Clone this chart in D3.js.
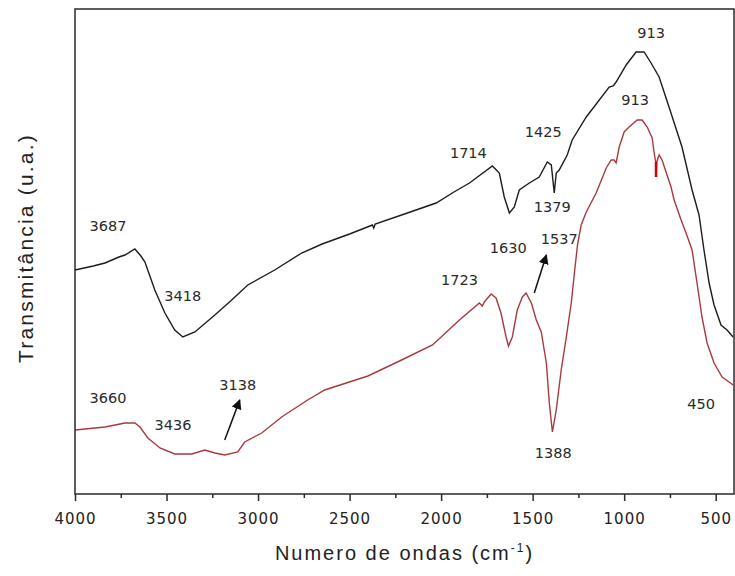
<!DOCTYPE html>
<html>
<head>
    <meta charset="UTF-8">
    <title>FTIR</title>
    <style>
        body {
            margin: 0;
            background-color: white;
        }
        svg {
            display: block;
        }
        .peak {
            font-family: "DejaVu Sans", sans-serif;
            font-size: 14.5px;
            fill: #2a2a2a;
        }
        .tick-label {
            font-family: "DejaVu Sans", sans-serif;
            font-size: 15px;
            letter-spacing: 1px;
            fill: #222;
        }
        .axis-title {
            font-family: "Liberation Sans", Arial, sans-serif;
            font-size: 20px;
            letter-spacing: 2px;
            fill: #222;
        }
        .y-title {
            font-size: 21px;
            letter-spacing: 2.2px;
        }
    </style>
</head>
<body>
    <svg id="chart" width="735" height="576"></svg>

    <script src="https://d3js.org/d3.v7.min.js"></script>
    <script>
        // upper spectrum (black), [wavenumber, transmittance u.a.]
        var blackSpectrum = [
            [4000, 44.8], [3900, 45.6], [3836, 46.2], [3760, 47.4], [3727, 47.8],
            [3673, 49.0], [3640, 47.6], [3618, 46.4], [3564, 40.8], [3509, 36.2],
            [3455, 32.8], [3411, 31.4], [3345, 32.4], [3236, 35.8], [3150, 38.6],
            [3056, 41.8], [2909, 44.8], [2762, 48.2], [2650, 50.0], [2500, 52.0],
            [2375, 53.8], [2368, 53.2], [2360, 54.0], [2200, 56.0], [2027, 58.2],
            [1930, 60.4], [1845, 62.2], [1720, 65.6], [1682, 64.2], [1655, 59.4],
            [1627, 56.2], [1600, 57.4], [1573, 60.8], [1518, 62.2], [1464, 63.4],
            [1420, 66.4], [1398, 65.8], [1382, 60.2], [1371, 64.2], [1355, 64.8],
            [1311, 67.8], [1284, 70.8], [1207, 75.4], [1082, 81.4], [1060, 81.6],
            [1044, 82.4], [989, 85.8], [935, 88.4], [891, 88.4], [853, 86.2],
            [809, 83.4], [755, 77.4], [684, 69.4], [629, 60.8], [591, 55.8],
            [564, 48.8], [536, 42.2], [509, 37.8], [471, 33.8], [438, 32.8],
            [405, 31.4]
        ];

        // lower spectrum (red)
        var redSpectrum = [
            [4000, 12.8], [3836, 13.4], [3727, 14.2], [3673, 14.2], [3645, 13.4],
            [3602, 11.2], [3536, 9.2], [3455, 8.0], [3362, 8.0], [3291, 8.8],
            [3236, 8.2], [3182, 7.8], [3111, 8.4], [3073, 10.4], [2980, 12.2],
            [2871, 15.4], [2729, 18.8], [2636, 20.8], [2400, 23.6], [2227, 26.6],
            [2047, 29.8], [1900, 34.8], [1791, 38.2], [1775, 37.6], [1764, 38.4],
            [1727, 40.0], [1700, 39.2], [1673, 36.2], [1645, 31.4], [1632, 29.6],
            [1611, 31.4], [1584, 36.8], [1556, 39.4], [1536, 40.2], [1507, 38.2],
            [1480, 34.8], [1453, 32.4], [1425, 26.2], [1409, 18.2], [1392, 12.4],
            [1371, 16.8], [1344, 24.8], [1316, 31.4], [1289, 38.2], [1273, 43.8],
            [1255, 49.8], [1235, 53.8], [1207, 56.4], [1153, 60.2], [1098, 65.2],
            [1071, 66.8], [1055, 66.8], [1044, 66.2], [1027, 69.4], [1000, 72.4],
            [973, 73.4], [929, 74.8], [902, 74.8], [874, 73.4], [847, 71.2],
            [836, 68.2], [828, 66.4], [826, 63.4], [822, 66.4], [809, 67.8],
            [793, 66.8], [744, 61.4], [727, 58.8], [689, 54.8], [662, 52.2],
            [629, 48.8], [602, 42.2], [575, 35.4], [547, 30.2], [509, 26.2],
            [465, 23.4], [427, 22.4], [405, 21.8]
        ];

        // bright red spike near 826
        var spike = [[826, 66.4], [826, 63.4]];

        var peakLabels = [
            { text: "3687", w: 3820, t: 53.6 },
            { text: "3418", w: 3411, t: 39.6 },
            { text: "1714", w: 1851, t: 68.2 },
            { text: "1425", w: 1442, t: 72.4 },
            { text: "913",  w: 853,  t: 92.2 },
            { text: "913",  w: 940,  t: 78.8 },
            { text: "1379", w: 1393, t: 57.4 },
            { text: "1630", w: 1633, t: 49.2 },
            { text: "1537", w: 1355, t: 51.0 },
            { text: "1723", w: 1900, t: 42.8 },
            { text: "3660", w: 3820, t: 19.2 },
            { text: "3436", w: 3465, t: 13.8 },
            { text: "3138", w: 3111, t: 21.8 },
            { text: "1388", w: 1387, t: 8.2 },
            { text: "450",  w: 580,  t: 18.0 }
        ];

        // arrows: tail -> head
        var arrows = [
            { w1: 3182, t1: 10.8, w2: 3100, t2: 18.8 },
            { w1: 1491, t1: 40.2, w2: 1425, t2: 47.8 }
        ];

        var majorTicks = [4000, 3500, 3000, 2500, 2000, 1500, 1000, 500];
        var minorTicks = [3750, 3250, 2750, 2250, 1750, 1250, 750];

        var plotLeft = 75, plotRight = 734, plotTop = 9, plotBottom = 494;

        var svg = d3.select("#chart");

        var x = d3.scaleLinear().domain([4000, 400]).range([plotLeft, plotRight]);
        var y = d3.scaleLinear().domain([0, 97]).range([plotBottom, plotTop]);

        var defs = svg.append("defs");
        defs.append("marker")
            .attr("id", "head")
            .attr("viewBox", "0 0 10 10")
            .attr("refX", 9)
            .attr("refY", 5)
            .attr("markerWidth", 10)
            .attr("markerHeight", 10)
            .attr("markerUnits", "userSpaceOnUse")
            .attr("orient", "auto")
            .append("path")
            .attr("d", "M0,0 L10,5 L0,10 Z")
            .attr("fill", "#111");

        // curves
        var line = d3.line()
            .x(function(d) { return x(d[0]); })
            .y(function(d) { return y(d[1]); });

        svg.append("path")
            .datum(blackSpectrum)
            .attr("d", line)
            .attr("fill", "none")
            .attr("stroke", "#1c1c1c")
            .attr("stroke-width", 1.4);

        svg.append("path")
            .datum(redSpectrum)
            .attr("d", line)
            .attr("fill", "none")
            .attr("stroke", "#a63a3e")
            .attr("stroke-width", 1.4);

        svg.append("path")
            .datum(spike)
            .attr("d", line)
            .attr("fill", "none")
            .attr("stroke", "#d40000")
            .attr("stroke-width", 2.5);

        // frame
        svg.append("rect")
            .attr("x", plotLeft)
            .attr("y", plotTop)
            .attr("width", plotRight - plotLeft)
            .attr("height", plotBottom - plotTop)
            .attr("fill", "none")
            .attr("stroke", "#2a2a2a")
            .attr("stroke-width", 1.5);

        // x axis
        var xAxis = d3.axisBottom(x)
            .tickValues(majorTicks)
            .tickSize(7)
            .tickPadding(12)
            .tickFormat(d3.format("d"));

        var axisG = svg.append("g")
            .attr("transform", "translate(0," + plotBottom + ")")
            .call(xAxis);
        axisG.select(".domain").remove();
        axisG.selectAll("line").attr("stroke", "#2a2a2a").attr("stroke-width", 1.5);
        axisG.selectAll("text").attr("class", "tick-label");
        axisG.attr("font-family", null).attr("font-size", null);

        var minorG = svg.append("g")
            .attr("transform", "translate(0," + plotBottom + ")")
            .call(d3.axisBottom(x).tickValues(minorTicks).tickSize(4).tickFormat(""));
        minorG.select(".domain").remove();
        minorG.selectAll("line").attr("stroke", "#2a2a2a").attr("stroke-width", 1.5);

        // peak labels
        svg.selectAll("text.peak")
            .data(peakLabels)
            .enter().append("text")
            .attr("class", "peak")
            .attr("x", function(d) { return x(d.w); })
            .attr("y", function(d) { return y(d.t); })
            .attr("text-anchor", "middle")
            .attr("dy", "0.36em")
            .text(function(d) { return d.text; });

        // arrows
        svg.selectAll("line.arrow")
            .data(arrows)
            .enter().append("line")
            .attr("class", "arrow")
            .attr("x1", function(d) { return x(d.w1); })
            .attr("y1", function(d) { return y(d.t1); })
            .attr("x2", function(d) { return x(d.w2); })
            .attr("y2", function(d) { return y(d.t2); })
            .attr("stroke", "#111")
            .attr("stroke-width", 1.5)
            .attr("marker-end", "url(#head)");

        // axis titles
        var xt = svg.append("text")
            .attr("class", "axis-title")
            .attr("x", (plotLeft + plotRight) / 2)
            .attr("y", 560)
            .attr("text-anchor", "middle");
        xt.append("tspan").text("Numero de ondas (cm");
        xt.append("tspan").attr("font-size", "12px").attr("dy", -8).text("-1");
        xt.append("tspan").attr("dy", 8).text(")");

        svg.append("text")
            .attr("class", "axis-title y-title")
            .attr("transform", "translate(33,248) rotate(-90)")
            .attr("text-anchor", "middle")
            .text("Transmitância (u.a.)");
    </script>
</body>
</html>
